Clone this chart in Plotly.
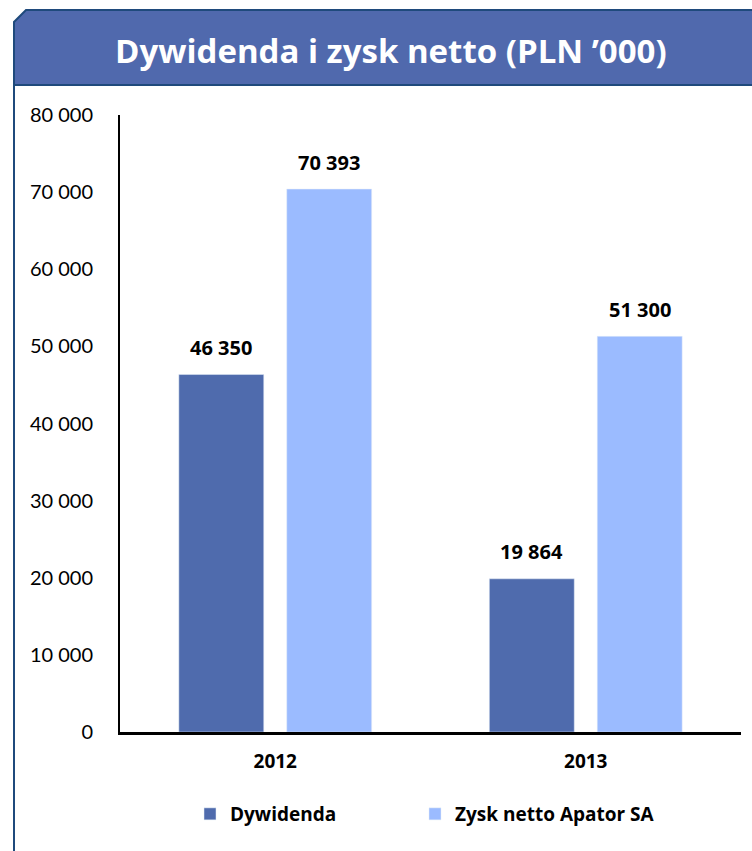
import plotly.graph_objects as go

categories = ["2012", "2013"]
dywidenda = [46350, 19864]
zysk_netto = [70393, 51300]
series_names = ["Dywidenda", "Zysk netto Apator SA"]
title_text = "Dywidenda i zysk netto (PLN ’000)"
tick_vals = [0, 10000, 20000, 30000, 40000, 50000, 60000, 70000, 80000]

W, H = 752, 851
L, R, T, B = 120, 11, 115, 119
PW, PH = W - L - R, H - T - B

def px(x):
    return (x - L) / PW

def py(y):
    return (H - B - y) / PH

def fmt(v):
    return f"{v:,}".replace(",", " ")

DARK = "#4F6BAD"
LIGHT = "#9BBBFF"
BORDER = "#1F4A7C"
FONT = "Lato"
BFONT = "Open Sans"

fig = go.Figure()
fig.add_trace(go.Bar(x=categories, y=dywidenda, name=series_names[0],
                     marker=dict(color=DARK), legend="legend"))
fig.add_trace(go.Bar(x=categories, y=zysk_netto, name=series_names[1],
                     marker=dict(color=LIGHT), legend="legend2"))

annotations = []
for vals, shift in ((dywidenda, -54), (zysk_netto, 54)):
    for i, v in enumerate(vals):
        annotations.append(dict(
            x=i, y=v, xref="x", yref="y", xshift=shift, yshift=27,
            text=fmt(v), showarrow=False,
            font=dict(family=BFONT, size=20, color="#000000", weight="bold"),
            xanchor="center", yanchor="middle"))

annotations.append(dict(
    x=px(391), y=py(51), xref="paper", yref="paper", text=title_text,
    showarrow=False, xanchor="center", yanchor="middle",
    font=dict(family=BFONT, size=33, color="#FFFFFF", weight="bold")))

shapes = [
    dict(type="path", xref="paper", yref="paper",
         path=(f"M {px(14)},{py(85)} L {px(14)},{py(22)} L {px(26)},{py(10)} "
               f"L {px(753)},{py(10)} L {px(753)},{py(85)} Z"),
         fillcolor="#5069AD", line=dict(color=BORDER, width=2), layer="below"),
    dict(type="line", xref="paper", yref="paper",
         x0=px(14), x1=px(14), y0=py(85), y1=py(852),
         line=dict(color=BORDER, width=2)),
]

legend_font = dict(family=BFONT, size=19, color="#000000", weight="bold")

fig.update_layout(
    width=W, height=H,
    margin=dict(l=L, r=R, t=T, b=B, autoexpand=False),
    paper_bgcolor="#FFFFFF", plot_bgcolor="#FFFFFF",
    barmode="group", bargap=0.305, bargroupgap=0.213,
    font=dict(family=FONT, size=20, color="#000000"),
    showlegend=True,
    legend=dict(orientation="h", x=px(190), y=py(814), xanchor="left",
                yanchor="middle", font=legend_font, bgcolor="rgba(0,0,0,0)"),
    legend2=dict(orientation="h", x=px(415), y=py(814), xanchor="left",
                 yanchor="middle", font=legend_font, bgcolor="rgba(0,0,0,0)"),
    annotations=annotations,
    shapes=shapes,
    xaxis=dict(type="category", range=[-0.5, 1.5], autorange=False,
               showline=True, linecolor="#000000", linewidth=2.5,
               showgrid=False, zeroline=False,
               ticks="outside", ticklen=10, tickcolor="rgba(0,0,0,0)",
               tickfont=dict(family=BFONT, size=19, color="#000000", weight="bold")),
    yaxis=dict(range=[0, 80000], autorange=False, tickvals=tick_vals,
               ticktext=[fmt(v) for v in tick_vals],
               showline=True, linecolor="#000000", linewidth=2,
               showgrid=False, zeroline=False,
               ticks="outside", ticklen=21, tickcolor="rgba(0,0,0,0)",
               tickfont=dict(family=FONT, size=20, color="#000000")),
)

fig.write_html("out.html", post_script="document.body.style.margin='0';",
               config={"displayModeBar": False})
